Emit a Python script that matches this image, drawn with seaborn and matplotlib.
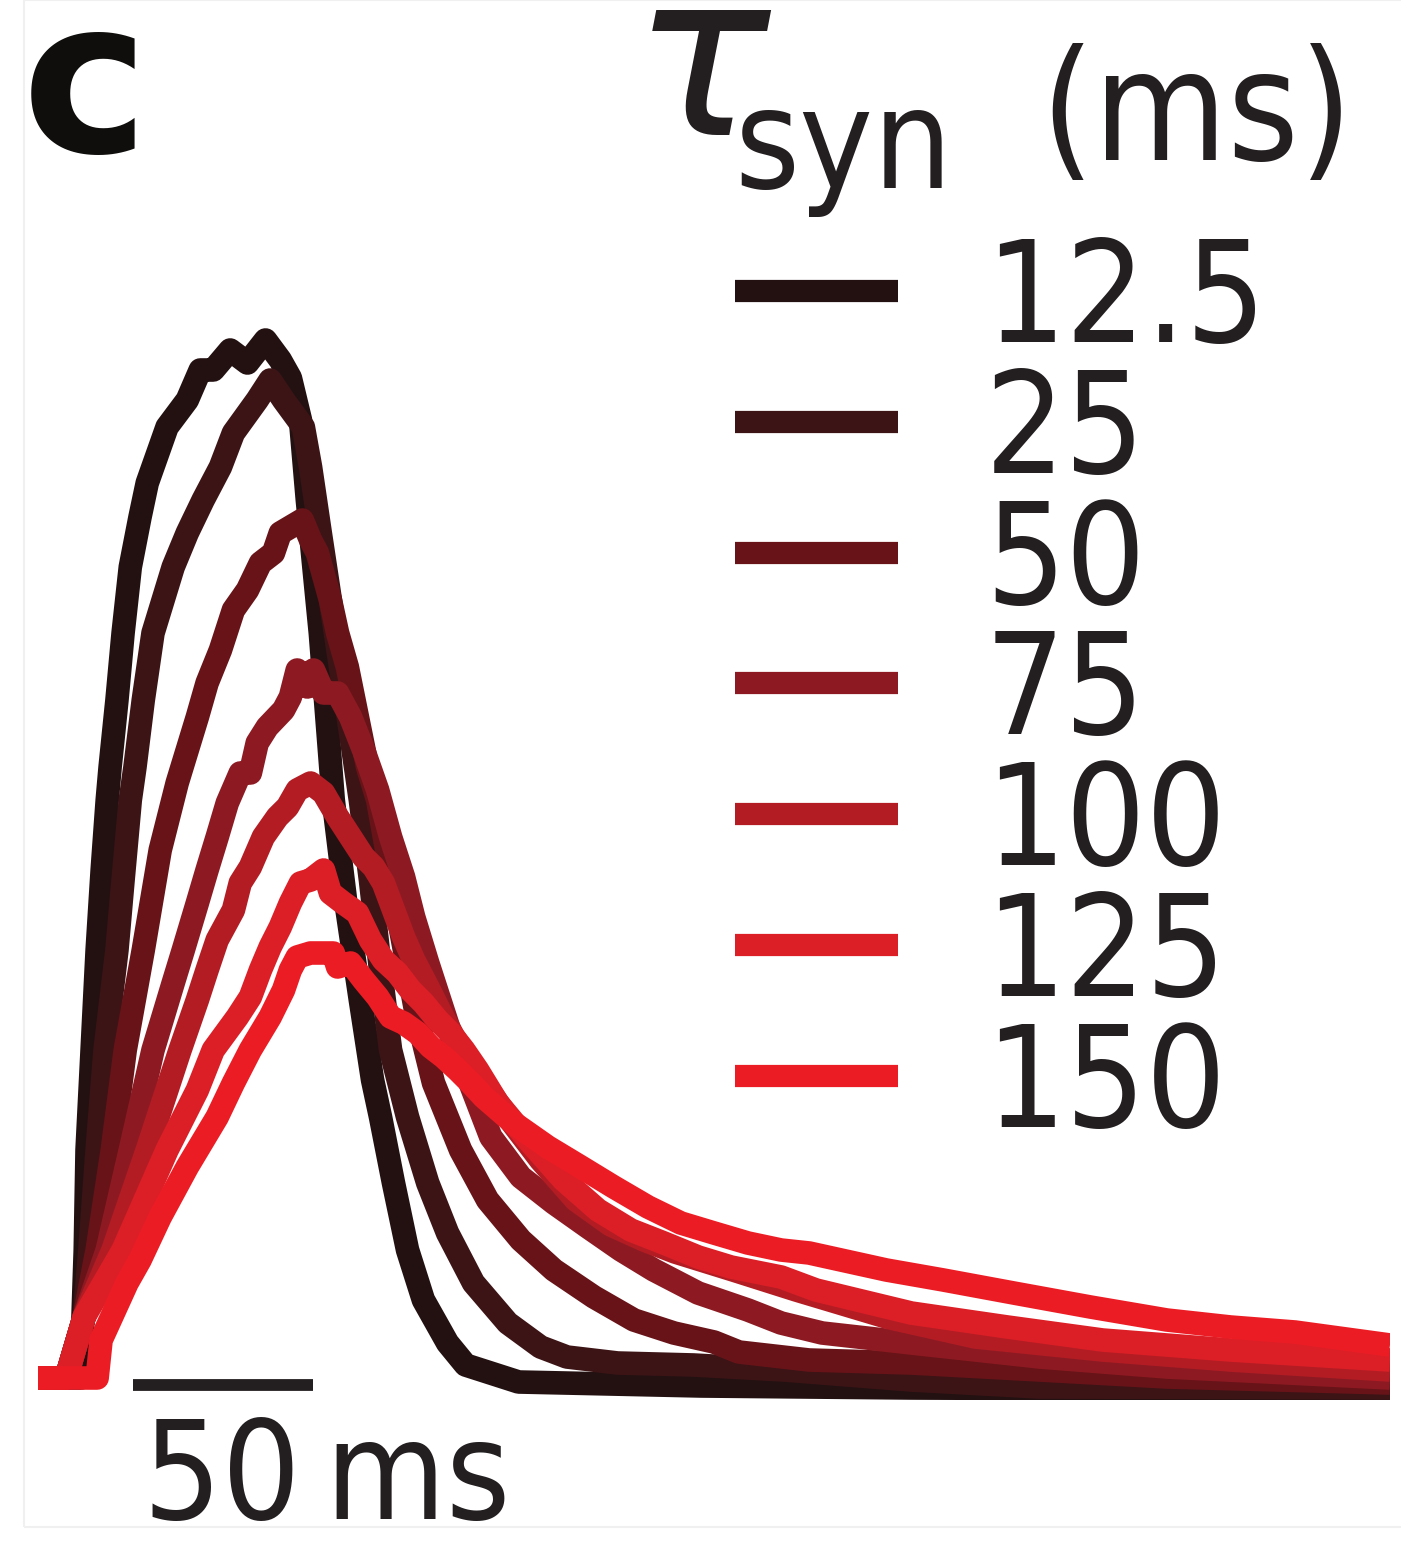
import numpy as np
import pandas as pd
import matplotlib
matplotlib.use("Agg")
import matplotlib.pyplot as plt
import seaborn as sns

# tau_syn values (ms) and their colours
TAU_LABELS = ["12.5", "25", "50", "75", "100", "125", "150"]
TAU_COLORS = ["#231111", "#3c1416", "#681318", "#8d1a22", "#b41c24", "#dc1f26", "#ec1c24"]

# traces: time (ms) and response (a.u.)
t_12 = [0, 11.9, 13.1, 13.6, 15, 16.4, 17.8, 19.2, 20, 21.9, 23.6, 25.6, 28.3, 30.3, 35.8, 41.4, 45, 48.6,
        53.3, 58.1, 63.1, 67.2, 70, 72.8, 74.7, 78.3, 81.9, 85.3, 89.4, 92.8, 95, 98.6, 102.5, 106.9, 113.6,
        118.6, 133.3, 183.9, 242.2, 375]
v_12 = [0.2, 0.2, 13, 23, 33, 43, 51, 58, 61.3, 68, 74.7, 81.3, 86.3, 89.7, 95.3, 98, 101, 101,
        103, 101.7, 104, 102, 100.2, 96, 88, 74.7, 58, 48, 38, 30, 26.3, 19.7, 13, 8, 3.7,
        1.5, -0.2, -0.6, -0.8, -1]

t_25 = [0, 7.8, 12.8, 14.4, 16.4, 18.6, 21.9, 23.6, 25.6, 26.9, 29.2, 31.9, 34.7, 37.5, 41.4, 45.8, 50.6,
        54.2, 60.8, 64.4, 68.1, 73.6, 75.6, 78.3, 81.1, 83.9, 86.7, 89.4, 92.2, 95, 97.8, 102.5, 108.1,
        113.6, 120.8, 130.3, 139.4, 146.7, 160.8, 181.9, 206.9, 242.2, 277.8, 375]
v_25 = [0.2, 0.2, 6.3, 13, 23, 33, 43, 50, 58, 61.3, 68, 74.7, 78, 81.3, 84.7, 88, 91.3,
        94.7, 98, 100, 98, 95.3, 91.3, 84.7, 78, 71.3, 64.7, 58, 50, 41, 33, 26.3, 19.7,
        14.7, 9.7, 5.7, 3.3, 2.3, 1.7, 1.5, 1.0, 0, -0.7, -0.8]

t_50 = [0, 7.8, 12.8, 16.4, 20.6, 24.2, 29.2, 33.9, 38.6, 41.4, 44.2, 46.9, 50.6, 54.2, 58.1, 61.7, 65.3,
        67.2, 73.3, 75.6, 77.5, 81.1, 83.1, 85.8, 88.6, 91.4, 94.2, 97.2, 100.6, 104.7, 109.7, 117.2,
        124.7, 133.9, 143.1, 154.2, 165.3, 176.4, 187.5, 194.4, 213.9, 242.2, 277.8, 313.1, 375]
v_50 = [0.2, 0.2, 6.3, 13, 23, 33, 43, 53, 59.7, 63, 66.3, 69.7, 73, 77, 79, 81.7, 82.7,
        84.7, 86, 84, 82.7, 78, 74.7, 71.3, 66.3, 61.3, 58, 52, 45, 37, 29.7, 23,
        18, 14, 11, 8.3, 6, 4.7, 3.8, 2.8, 2.0, 1.7, 1.0, 0.3, -0.3]

t_75 = [0, 7.8, 12.8, 19.2, 25.6, 31.9, 37.5, 40.3, 44.2, 46.9, 49.7, 52.5, 56.1, 58.9, 60.8, 63.6, 68.1,
        70, 71.9, 74.7, 76.4, 79.2, 83.1, 86.7, 90.3, 94.2, 97.8, 101.4, 104.2, 108.1, 111.7, 115.3, 119.2,
        125.6, 133.9, 143.1, 152.5, 161.7, 170.8, 183.1, 196.9, 206.1, 217.5, 242.2, 277.8, 313.1, 375]
v_75 = [0.2, 0.2, 6.3, 13, 23, 33, 39.7, 43, 47.7, 51, 54.3, 57.7, 60.7, 60.7, 63.7, 65.3, 67,
        68.3, 71, 69.3, 71, 68.7, 68.7, 66.3, 63, 59, 54.3, 50.3, 46.3, 41.7, 37.7, 33.7, 30.3,
        24.3, 20.3, 17.7, 15.3, 13, 11, 8.7, 7, 5.7, 4.7, 3.7, 2.3, 1.3, 0.2]

t_100 = [0, 7.8, 12.8, 20.8, 30.3, 39.4, 44.2, 46.9, 49.7, 54.2, 56.1, 58.9, 62.5, 66.4, 69.2, 71.9,
         75.6, 79.2, 83.1, 86.7, 90.3, 93.1, 95.8, 98.6, 101.4, 104.2, 108.1, 111.7, 115.3, 120, 123.6,
         130.3, 139.4, 149.2, 158.9, 168.1, 176.7, 192.8, 210.3, 235.3, 260, 295.3, 330.8, 375]
v_100 = [0.2, 0.2, 6.3, 13, 23, 33, 38, 41, 44, 47, 49.7, 51.3, 54.3, 56.3, 57.3, 59,
         59.7, 58.7, 56.3, 54.3, 52.3, 51.3, 49.7, 47, 44.3, 42, 39.3, 36.7, 34.3, 31.7, 29.7,
         26.3, 22, 18, 15.5, 14, 12.8, 11, 9, 6.3, 4.3, 3, 2, 1]

t_125 = [0, 7.8, 12.8, 23.6, 35.8, 44.2, 48.6, 55.3, 58.9, 61.7, 64.4, 67.2, 70, 72.8, 75.6, 79.2,
         81.1, 84.7, 88.6, 92.2, 95.8, 99.7, 103.3, 106.9, 110.8, 114.4, 118.1, 121.9, 127.5, 136.7,
         145.8, 155.3, 164.4, 173.6, 183.1, 192.2, 206.1, 215.8, 242.2, 268.9, 295.3, 330.8, 375]
v_125 = [0.2, 0.2, 6.3, 13, 23, 29, 33, 36.3, 38.3, 41, 43.3, 45.3, 47.7, 49.7, 50, 51,
         48.7, 47.7, 46.7, 44, 42, 40.7, 39, 37.7, 36, 34.7, 33, 31, 27.7, 23.7,
         20, 17, 15, 13.7, 12.3, 11.3, 10.3, 9, 6.7, 5.3, 4, 3, 2]

t_150 = [0, 16.4, 17.5, 19.4, 24.7, 28.3, 33.9, 41.4, 49.7, 54.2, 58.9, 64.4, 68.1, 70, 71.9, 75.6,
         81.9, 83.1, 86.7, 90.3, 94.2, 97.8, 101.4, 105.3, 108.9, 112.5, 116.4, 120, 123.6, 131.9,
         141.4, 150.6, 159.7, 169.2, 178.3, 187.5, 196.9, 206.1, 213.9, 235.3, 251.1, 270.6, 291.9,
         313.1, 330.8, 348.6, 375]
v_150 = [0.2, 0.2, 4, 5.5, 9.7, 12, 16.3, 21.3, 26.3, 29.7, 33, 36.3, 39, 41, 42.3, 42.7,
         42.7, 41.3, 41.7, 40, 38.3, 36.3, 35.7, 34.7, 33.3, 32.3, 31, 29.7, 28.3, 25.7,
         23.3, 21.3, 19.3, 17.3, 15.7, 14.7, 13.7, 13, 12.7, 11, 10, 8.7, 7.3,
         6, 5.3, 4.8, 3.5]

TIMES = [t_12, t_25, t_50, t_75, t_100, t_125, t_150]
VALUES = [v_12, v_25, v_50, v_75, v_100, v_125, v_150]

SCALE_BAR_MS = 50
SCALE_BAR_START = 26.4

# build a long-form table for seaborn
frames = []
for label, tt, vv in zip(TAU_LABELS, TIMES, VALUES):
    frames.append(pd.DataFrame({"time": tt, "amp": vv, "tau": label}))
df = pd.concat(frames, ignore_index=True)

sns.set_theme(style="white")
plt.rcParams["font.family"] = ["DejaVu Sans"]
plt.rcParams["mathtext.fontset"] = "dejavusans"

TEXT_COLOR = "#231f20"

W, H = 1401, 1550
fig = plt.figure(figsize=(W / 100, H / 100), dpi=100)
fig.patch.set_facecolor("white")

# faint frame around the panel
fig.add_artist(plt.Rectangle((24 / W, 1 - 1527 / H), 1, 1527 / H, transform=fig.transFigure,
                             fill=False, edgecolor="#f0f0f0", linewidth=1.5))

ax = fig.add_axes([38 / W, 1 - 1400 / H, 1352 / W, 1120 / H])
sns.lineplot(data=df, x="time", y="amp", hue="tau", hue_order=TAU_LABELS,
             palette=dict(zip(TAU_LABELS, TAU_COLORS)), sort=False, estimator=None,
             linewidth=17, legend=False, ax=ax,
             solid_joinstyle="round", solid_capstyle="butt")
ax.set_xlim(0, 375)
ax.set_ylim(-2, 110)
ax.set_axis_off()

# scale bar
ax.plot([SCALE_BAR_START, SCALE_BAR_START + SCALE_BAR_MS], [-0.5, -0.5], color=TEXT_COLOR,
        linewidth=8.5, solid_capstyle="butt", clip_on=False)
fig.text(143 / W, 1 - 1519 / H, f"{SCALE_BAR_MS}\u2009ms", fontsize=99, color=TEXT_COLOR,
         ha="left", va="baseline", fontstretch="condensed")

# hand-made legend
leg_top = 291
leg_step = 130.8
for i, (label, color) in enumerate(zip(TAU_LABELS, TAU_COLORS)):
    yy = 1 - (leg_top + i * leg_step) / H
    fig.add_artist(plt.Line2D([735 / W, 898 / W], [yy, yy], transform=fig.transFigure,
                              color=color, linewidth=16, solid_capstyle="butt"))
    fig.text(985 / W, 1 - (342 + i * leg_step) / H, label, fontsize=101, color=TEXT_COLOR,
             ha="left", va="baseline", fontstretch="condensed")

# legend title
fig.text(632 / W, 1 - 135 / H, r"$\tau$", fontsize=164, color=TEXT_COLOR, ha="left", va="baseline")
fig.text(734 / W, 1 - 188 / H, "syn", fontsize=100, color=TEXT_COLOR, ha="left", va="baseline",
         fontstretch="condensed")
fig.text(1040 / W, 1 - 160 / H, "(ms)", fontsize=110, color=TEXT_COLOR, ha="left", va="baseline",
         fontstretch="condensed")

# panel label
fig.text(22 / W, 1 - 152 / H, "c", fontsize=154, fontweight="bold", color="#0f0e0c",
         ha="left", va="baseline")

plt.savefig("out.png", dpi=100)
plt.close()
